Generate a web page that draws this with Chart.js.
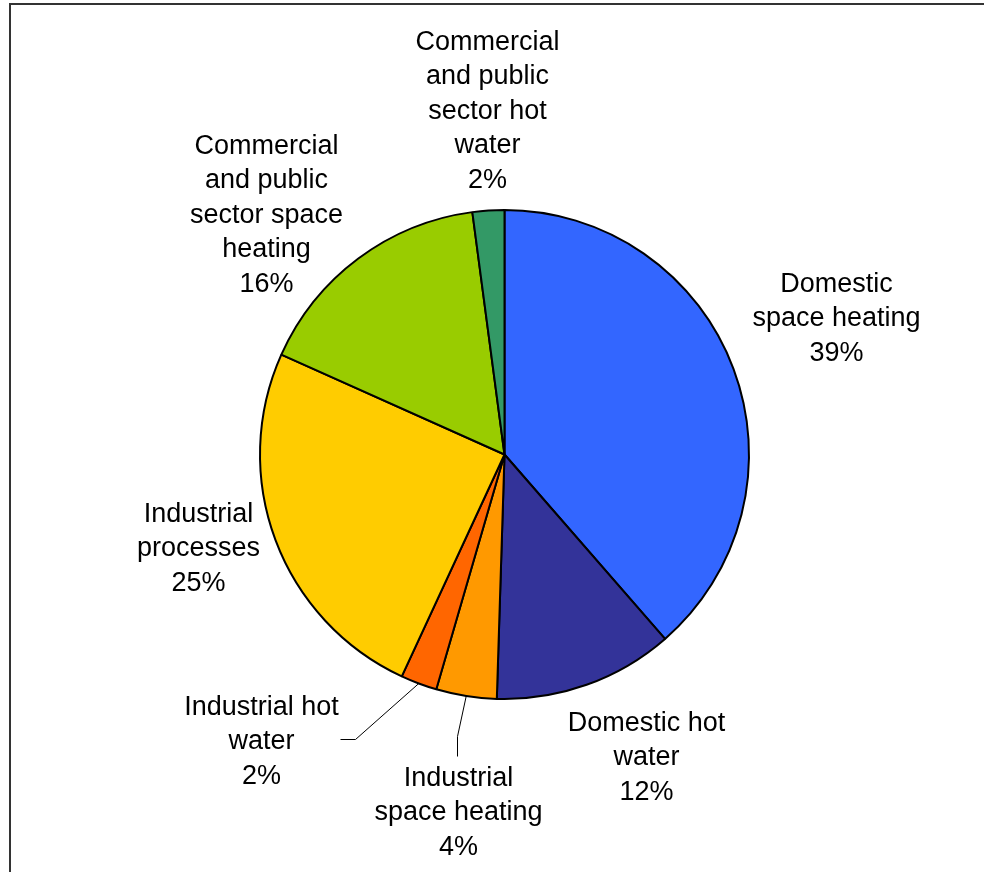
<!DOCTYPE html>
<html>
<head>
<meta charset="utf-8">
<script src="https://cdn.jsdelivr.net/npm/chart.js@4"></script>
<style>
    body { margin: 0; background: #fff; }
    #wrap { position: relative; width: 984px; height: 872px; overflow: hidden; }
    #frame { position: absolute; left: 9px; top: 3px; width: 1200px; height: 1200px;
             border-left: 2px solid #333; border-top: 2px solid #333; }
    #myChart { position: absolute; left: 0; top: 0; }
</style>
</head>
<body>
<div id="wrap">
    <div id="frame"></div>
    <canvas id="myChart" width="984" height="872"></canvas>
</div>
<script>
// categories, clockwise from 12 o'clock
var categories = [
    ['Domestic', 'space heating'],
    ['Domestic hot', 'water'],
    ['Industrial', 'space heating'],
    ['Industrial hot', 'water'],
    ['Industrial', 'processes'],
    ['Commercial', 'and public', 'sector space', 'heating'],
    ['Commercial', 'and public', 'sector hot', 'water']
];
// share of heat demand (%)
var shares = [38.6, 11.9, 4.0, 2.4, 24.8, 16.2, 2.1];
var sliceColors = ['#3366FF', '#333399', '#FF9900', '#FF6600', '#FFCC00', '#99CC00', '#339966'];

// label layout: centre of the first text line, relative to the pie centre
var labelOffsets = [[332, -170], [142, 269], [-46, 324], [-243, 253], [-306, 60], [-238, -308], [-17, -412]];
// leader lines: elbow points relative to the pie centre (null = no line)
var leaderLines = [null, null, [[-47, 282], [-47, 302]], [[-149, 285], [-164, 285]], null, null, null];

const ctx = document.getElementById('myChart');

const outsideLabels = {
    id: 'outsideLabels',
    afterDatasetsDraw(chart) {
        const c = chart.ctx;
        const meta = chart.getDatasetMeta(0);
        const total = shares.reduce((a, b) => a + b, 0);
        c.save();
        c.fillStyle = '#000';
        c.font = '27px "Liberation Sans", Arial, sans-serif';
        c.textAlign = 'center';
        c.textBaseline = 'middle';
        meta.data.forEach(function (arc, i) {
            const cx = arc.x, cy = arc.y;
            const lines = categories[i].concat([Math.round(shares[i] / total * 100) + '%']);
            const off = labelOffsets[i];
            lines.forEach(function (t, k) {
                c.fillText(t, cx + off[0], cy + off[1] + k * 34.5);
            });
            if (leaderLines[i]) {
                // start the leader line on the rim, at the middle of the slice
                const mid = (arc.startAngle + arc.endAngle) / 2;
                c.beginPath();
                c.strokeStyle = '#000';
                c.lineWidth = 1;
                c.moveTo(cx + Math.cos(mid) * arc.outerRadius, cy + Math.sin(mid) * arc.outerRadius);
                leaderLines[i].forEach(function (p) {
                    c.lineTo(cx + p[0], cy + p[1]);
                });
                c.stroke();
            }
        });
        c.restore();
    }
};

new Chart(ctx, {
    type: 'pie',
    data: {
        labels: categories.map(l => l.join(' ')),
        datasets: [{
            data: shares,
            backgroundColor: sliceColors,
            borderColor: '#000',
            borderWidth: 2
        }]
    },
    options: {
        responsive: false,
        animation: false,
        layout: {
            padding: { left: 259, right: 234, top: 209, bottom: 172 }
        },
        plugins: {
            legend: { display: false },
            tooltip: { enabled: false }
        }
    },
    plugins: [outsideLabels]
});
</script>
</body>
</html>
